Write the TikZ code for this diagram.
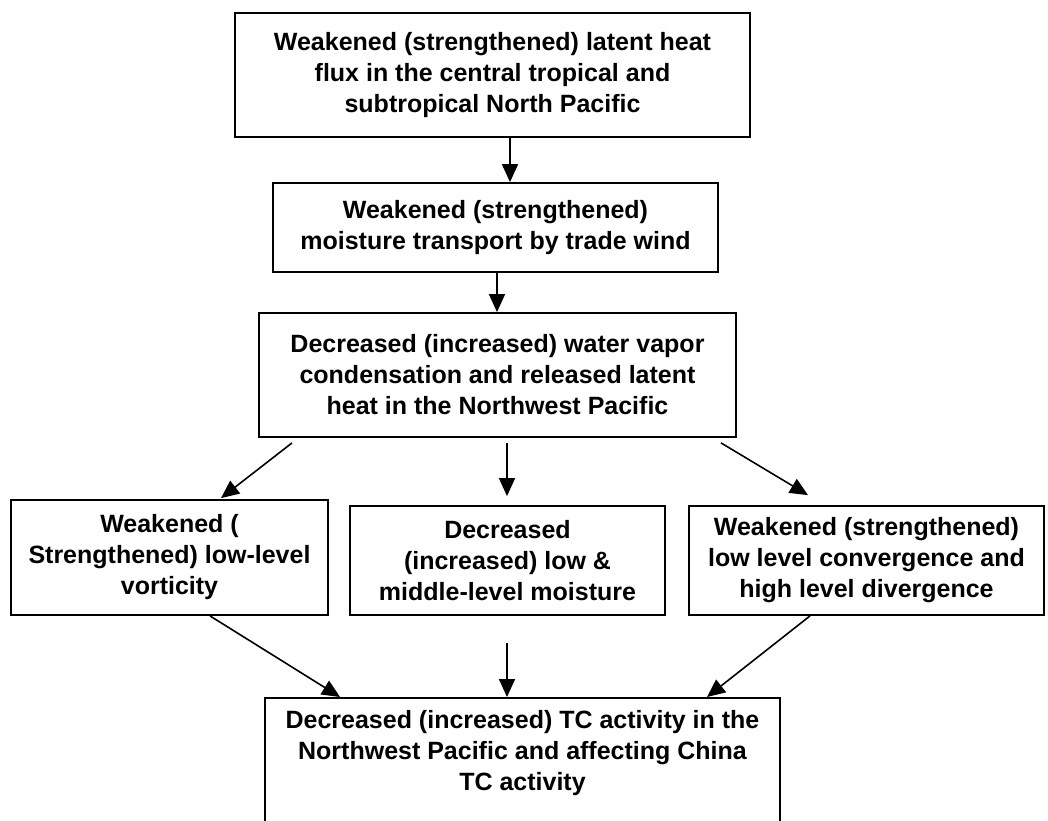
\documentclass[tikz,border=0pt]{standalone}
\usepackage{fontspec}
\setmainfont{Liberation Sans}
\usetikzlibrary{arrows.meta}
\begin{document}
\begin{tikzpicture}[x=1pt,y=1pt,
  box/.style={draw, line width=1.8pt, inner sep=0pt, align=center,
    font=\bfseries\fontsize{25}{31}\selectfont},
  txt/.style={inner sep=0pt, align=center, font=\bfseries\fontsize{25}{31}\selectfont},
  arr/.style={line width=1.6pt, -{Triangle[length=18pt,width=16pt]}}]
\clip (0,0) rectangle (1048,-820);
\fill[white] (0,0) rectangle (1048,-820);
\node[box, minimum width=515pt, minimum height=124pt] (b1) at (492.5,-75)
  {Weakened (strengthened) latent heat\\flux in the central tropical and\\subtropical North Pacific};
\node[box, minimum width=445pt, minimum height=89pt] (b2) at (495.5,-227.5)
  {Weakened (strengthened)\\moisture transport by trade wind};
\node[box, minimum width=477pt, minimum height=124pt] (b3) at (497.5,-375)
  {Decreased (increased) water vapor\\condensation and released latent\\heat in the Northwest Pacific};
\node[box, minimum width=317pt, minimum height=115pt] (b4) at (169.5,-557.5)
  {Weakened (\\Strengthened) low-level\\vorticity};
\node[box, minimum width=315pt, minimum height=109pt] (b5) at (507.5,-560.5)
  {Decreased\\(increased) low \&\\middle-level moisture};
\node[box, minimum width=355pt, minimum height=109pt] (b6) at (866.5,-560.5)
  {Weakened (strengthened)\\low level convergence and\\high level divergence};
\node[box, minimum width=515pt, minimum height=160pt, anchor=north] (b7) at (522.5,-697) {};
\node[txt] (b7t) at (522.5,-753)
  {Decreased (increased) TC activity in the\\Northwest Pacific and affecting China\\TC activity};
\draw[arr] ([xshift=17.5pt]b1.south) -- ([xshift=14.5pt]b2.north);
\draw[arr] ([xshift=1.5pt]b2.south) -- ([xshift=-0.5pt]b3.north);
\draw[arr] ([xshift=-205.5pt,yshift=-5pt]b3.south) -- ([xshift=51.5pt,yshift=1pt]b4.north);
\draw[arr] ([xshift=9.5pt,yshift=-5pt]b3.south) -- ([xshift=-0.5pt,yshift=9pt]b5.north);
\draw[arr] ([xshift=223.5pt,yshift=-5pt]b3.south) -- ([xshift=-58.5pt,yshift=10pt]b6.north);
\draw[arr] ([xshift=40.5pt]b4.south) -- ([xshift=-182.5pt]b7.north);
\draw[arr] ([xshift=-0.5pt,yshift=-27pt]b5.south) -- ([xshift=-15.5pt]b7.north);
\draw[arr] ([xshift=-56.5pt]b6.south) -- ([xshift=184.5pt]b7.north);
\end{tikzpicture}
\end{document}
